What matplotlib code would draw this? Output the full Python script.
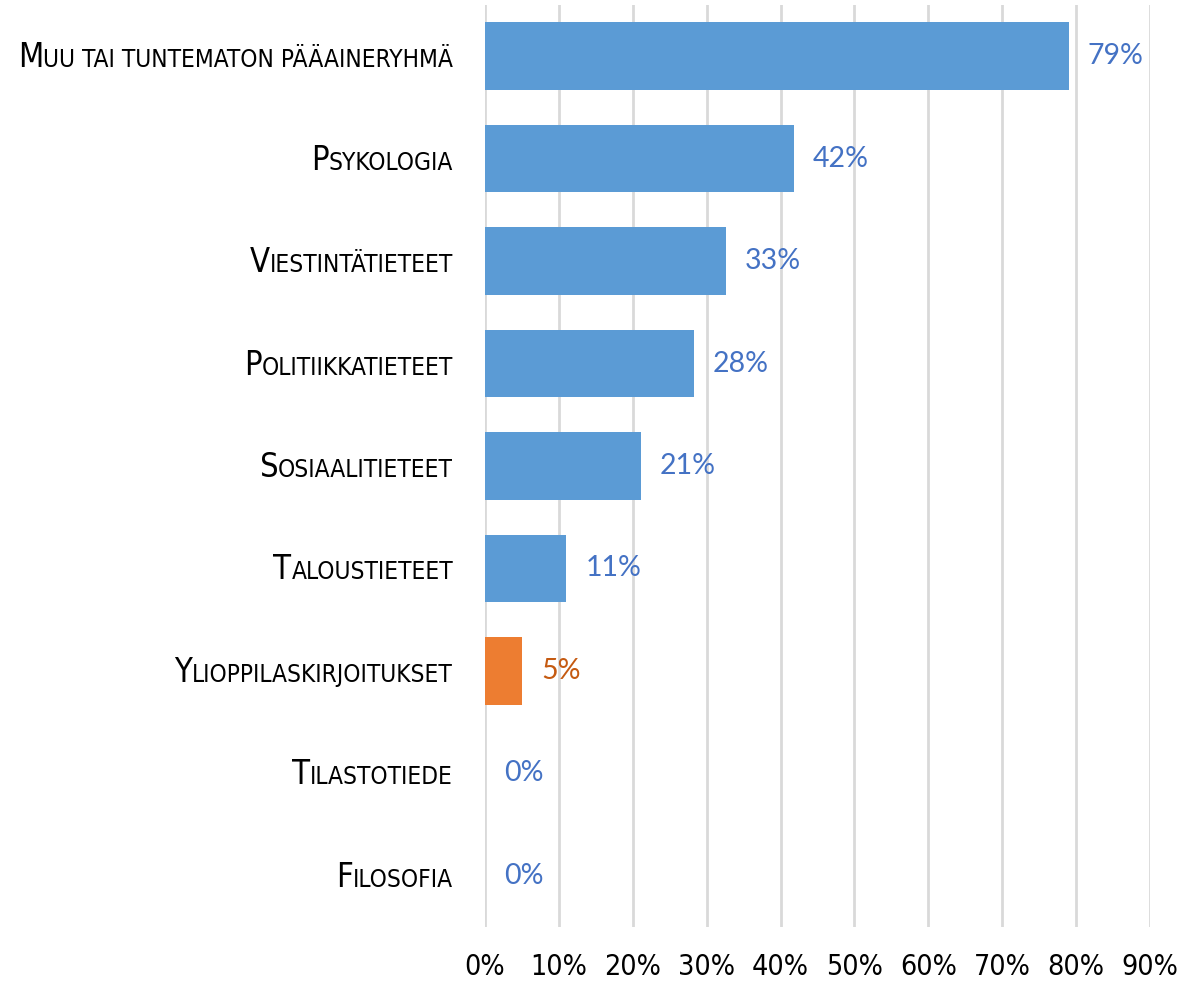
import matplotlib
matplotlib.use("Agg")
import matplotlib.pyplot as plt
import matplotlib.transforms as mtransforms
from matplotlib import font_manager as fm
from matplotlib.ticker import PercentFormatter

categories = ["Muu tai tuntematon pääaineryhmä", "Psykologia", "Viestintätieteet",
              "Politiikkatieteet", "Sosiaalitieteet", "Taloustieteet",
              "Ylioppilaskirjoitukset", "Tilastotiede", "Filosofia"]
values = [79.0, 41.8, 32.6, 28.3, 21.1, 11.0, 5.0, 0.0, 0.0]
highlight = "Ylioppilaskirjoitukset"

# look for a narrow sans font for the category / tick labels
narrow = None
for f in fm.fontManager.ttflist:
    if f.style != "normal" or f.weight not in (400, "normal", "regular"):
        continue
    if ("Narrow" in f.name or "Condensed" in f.name or f.stretch in ("condensed", "semi-condensed")
            or "Condensed" in f.fname or "Narrow" in f.fname):
        if "Bold" in f.fname or "Italic" in f.fname or "Oblique" in f.fname:
            continue
        narrow = f.fname
        break


def lfont(size):
    if narrow:
        return fm.FontProperties(fname=narrow, size=size)
    return fm.FontProperties(family="DejaVu Sans", size=size * 0.85)


value_font = ["Lato", "DejaVu Sans"]

fig = plt.figure(figsize=(12.04, 9.83), dpi=100)
ax = fig.add_axes([485 / 1204, 1 - 927 / 983, 665 / 1204, 922 / 983])

ypos = list(range(len(categories)))
bar_colors = ["#ED7D31" if c == highlight else "#5B9BD5" for c in categories]
txt_colors = ["#C55A11" if c == highlight else "#4472C4" for c in categories]
ax.barh(ypos, values, height=0.66, color=bar_colors, zorder=3)
ax.set_ylim(len(categories) - 0.5, -0.5)
ax.set_xlim(0, 90)
ax.set_xticks(range(0, 91, 10))
ax.xaxis.set_major_formatter(PercentFormatter(decimals=0))
ax.set_yticks([])
ax.grid(axis="x", color="#D9D9D9", linewidth=2, zorder=0)
for s in ax.spines.values():
    s.set_visible(False)
ax.tick_params(axis="x", length=0, pad=19)
for lab in ax.get_xticklabels():
    lab.set_fontproperties(lfont(20.5))
    lab.set_color("black")

for y, v, c in zip(ypos, values, txt_colors):
    ax.annotate(f"{round(v)}%", (v, y), xytext=(19, 0), textcoords="offset pixels",
                ha="left", va="center", fontsize=20.5, color=c, family=value_font,
                zorder=4)

# small-caps category labels
big, small = 23.5, 17.6
fig.canvas.draw()
renderer = fig.canvas.get_renderer()
ytrans = ax.get_yaxis_transform()
for y, name in zip(ypos, categories):
    first, rest = name[0], name[1:].upper()
    tr = mtransforms.offset_copy(ytrans, fig=fig, x=-32, y=-11, units="dots")
    t = ax.text(0, y, rest, transform=tr, ha="right", va="baseline",
                fontproperties=lfont(small), color="black")
    w = t.get_window_extent(renderer).width
    tr2 = mtransforms.offset_copy(ytrans, fig=fig, x=-32 - w, y=-11, units="dots")
    ax.text(0, y, first, transform=tr2, ha="right", va="baseline",
            fontproperties=lfont(big), color="black")

fig.savefig("out.png", dpi=100)
